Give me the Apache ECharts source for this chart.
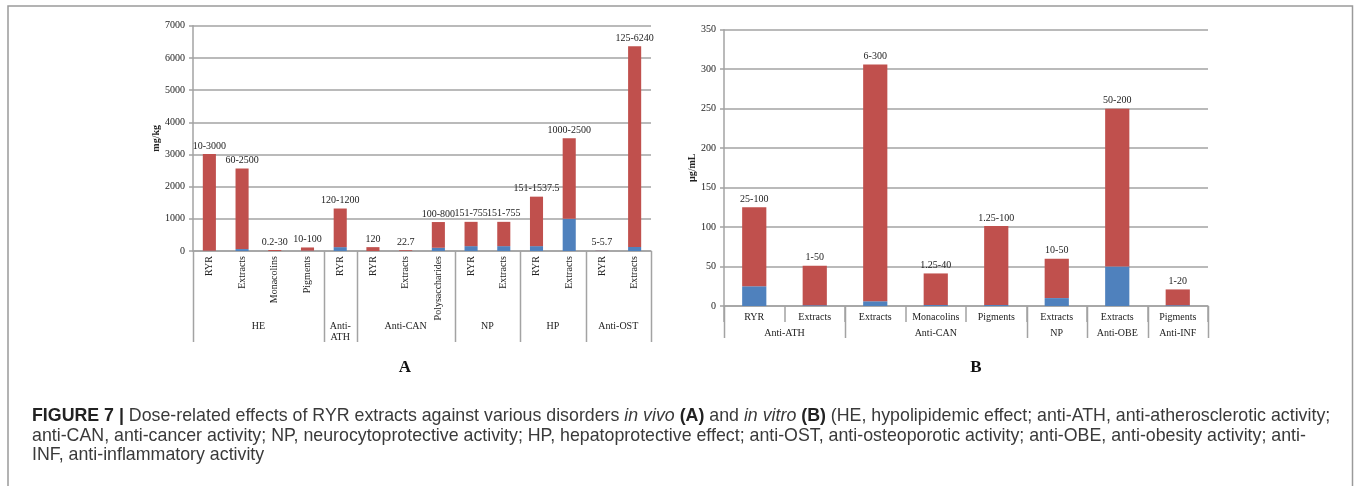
<!DOCTYPE html>
<html><head><meta charset="utf-8">
<script src="https://cdn.jsdelivr.net/npm/echarts@6.0.0/dist/echarts.min.js"></script>
<style>html,body{margin:0;padding:0;background:#fff}#c{width:1355px;height:486px}</style>
</head><body><div id="c"></div>
<script>
// ---- Panel A (in vivo, mg/kg) ----
const catsA = ['RYR','Extracts','Monacolins','Pigments','RYR','RYR','Extracts','Polysaccharides','RYR','Extracts','RYR','Extracts','RYR','Extracts'];
const groupNamesA = ['HE','Anti-\nATH','Anti-CAN','NP','HP','Anti-OST'];
const groupSizesA = [4,1,3,2,2,2];
const minA = [10,60,0.2,10,120,0,0,100,151,151,151,1000,5,125];
const maxA = [3000,2500,30,100,1200,120,22.7,800,755,755,1537.5,2500,5.7,6240];
const labelsA = ['10-3000','60-2500','0.2-30','10-100','120-1200','120','22.7','100-800','151-755','151-755','151-1537.5','1000-2500','5-5.7','125-6240'];
const yTicksA = {min:0, max:7000, interval:1000};

// ---- Panel B (in vitro, µg/mL) ----
const catsB = ['RYR','Extracts','Extracts','Monacolins','Pigments','Extracts','Extracts','Pigments'];
const groupNamesB = ['Anti-ATH','Anti-CAN','NP','Anti-OBE','Anti-INF'];
const groupSizesB = [2,3,1,1,1];
const minB = [25,1,6,1.25,1.25,10,50,1];
const maxB = [100,50,300,40,100,50,200,20];
const labelsB = ['25-100','1-50','6-300','1.25-40','1.25-100','10-50','50-200','1-20'];
const yTicksB = {min:0, max:350, interval:50};

const captionLines = [
  '{b|FIGURE 7 |} Dose-related effects of RYR extracts against various disorders {i|in vivo} {b|(A)} and {i|in vitro} {b|(B)} (HE, hypolipidemic effect; anti-ATH, anti-atherosclerotic activity;',
  'anti-CAN, anti-cancer activity; NP, neurocytoprotective activity; HP, hepatoprotective effect; anti-OST, anti-osteoporotic activity; anti-OBE, anti-obesity activity; anti-',
  'INF, anti-inflammatory activity'
];

const RED = '#C0504D', BLUE = '#4F81BD', GRID = '#a3a3a3', TXT = '#222';
const SERIF = '"Liberation Serif","Times New Roman",serif';
const SANS = '"Liberation Sans",Arial,Helvetica,sans-serif';
const CAP = 17.8;

const chart = echarts.init(document.getElementById('c'), null, {renderer:'canvas'});

function yAxis(gi, t, name, gap){
  return {type:'value', gridIndex:gi, min:t.min, max:t.max, interval:t.interval,
    name:name, nameLocation:'middle', nameGap:gap, nameRotate:90,
    nameTextStyle:{fontFamily:SERIF, fontWeight:'bold', fontSize:10, color:TXT},
    axisLine:{show:true, lineStyle:{color:GRID, width:1.5}},
    axisTick:{show:true, inside:false, length:4, lineStyle:{color:GRID, width:1.5}},
    axisLabel:{fontFamily:SERIF, fontSize:10, color:TXT, margin:8, formatter:v => String(v)},
    splitLine:{show:true, lineStyle:{color:GRID, width:1.5}}};
}
function xAxis(gi, cats, rotate, margin, tick){
  return {type:'category', gridIndex:gi, data:cats,
    axisLine:{show:true, onZero:false, lineStyle:{color:GRID, width:1.5}},
    axisTick:{show:tick, length:16, interval:0, lineStyle:{color:GRID, width:1.5}},
    axisLabel:{interval:0, rotate:rotate, margin:margin, fontFamily:SERIF, fontSize:10, color:TXT, hideOverlap:false},
    splitLine:{show:false}};
}
function bars(xi, mins, maxs, labels){
  return [
    {type:'bar', xAxisIndex:xi, yAxisIndex:xi, stack:'s'+xi, data:mins, barCategoryGap:'60%',
     itemStyle:{color:BLUE}, silent:true},
    {type:'bar', xAxisIndex:xi, yAxisIndex:xi, stack:'s'+xi, data:maxs, barCategoryGap:'60%',
     itemStyle:{color:RED}, silent:true,
     label:{show:true, position:'top', distance:3, fontFamily:SERIF, fontSize:10, color:TXT,
       formatter:p => labels[p.dataIndex]}}
  ];
}

chart.setOption({
  animation:false,
  grid:[
    {left:193, top:25.7, width:458, height:225.3, containLabel:false, outerBoundsMode:'none'},
    {left:724, top:29.7, width:484, height:276.3, containLabel:false, outerBoundsMode:'none'}
  ],
  xAxis:[xAxis(0, catsA, 90, 5, false), xAxis(1, catsB, 0, 6, true)],
  yAxis:[yAxis(0, yTicksA, 'mg/kg', 32), yAxis(1, yTicksB, 'µg/mL', 23)],
  series:[...bars(0, minA, maxA, labelsA), ...bars(1, minB, maxB, labelsB)]
});

function groupGraphics(xi, sizes, names, lineBottom, labelY){
  const g = [];
  const c0 = chart.convertToPixel({xAxisIndex:xi}, 0);
  const c1 = chart.convertToPixel({xAxisIndex:xi}, 1);
  const band = c1 - c0;
  const left = c0 - band/2;
  const y0 = chart.convertToPixel({yAxisIndex:xi}, 0);
  let idx = 0;
  const boundaries = [0];
  sizes.forEach((s, k) => {
    const xa = left + idx*band, xb = left + (idx+s)*band;
    g.push({type:'text', silent:true, style:{x:(xa+xb)/2, y:labelY, text:names[k], align:'center', verticalAlign:'top',
      font:'10px '+SERIF, fill:TXT, lineHeight:10.5}});
    idx += s; boundaries.push(idx);
  });
  boundaries.forEach(b => {
    const x = Math.round(left + b*band) + 0.5;
    g.push({type:'line', silent:true, shape:{x1:x, y1:y0, x2:x, y2:lineBottom}, style:{stroke:GRID, lineWidth:1.5}});
  });
  return g;
}

const g = [];
g.push({type:'polyline', silent:true, shape:{points:[[8,486],[8,6],[1352.5,6],[1352.5,486]]},
  style:{stroke:'#9a9a9a', lineWidth:1.5, fill:null}});
g.push(...groupGraphics(0, groupSizesA, groupNamesA, 342, 321.5));
g.push(...groupGraphics(1, groupSizesB, groupNamesB, 338, 328));
g.push({type:'text', silent:true, style:{x:405, y:368, text:'A', align:'center', verticalAlign:'middle', font:'bold 17px '+SERIF, fill:'#111'}});
g.push({type:'text', silent:true, style:{x:976, y:368, text:'B', align:'center', verticalAlign:'middle', font:'bold 17px '+SERIF, fill:'#111'}});
captionLines.forEach((t, i) => {
  g.push({type:'text', silent:true, style:{x:32, y:416.5 + i*19.5, text:t, align:'left', verticalAlign:'middle',
    font:CAP+'px '+SANS, fill:'#3a3a3a',
    rich:{b:{fontWeight:'bold', fontSize:CAP, fontFamily:SANS, fill:'#222'}, i:{fontStyle:'italic', fontSize:CAP, fontFamily:SANS, fill:'#3a3a3a'}}}});
});
chart.setOption({graphic:{elements:g}});
</script>
</body></html>
